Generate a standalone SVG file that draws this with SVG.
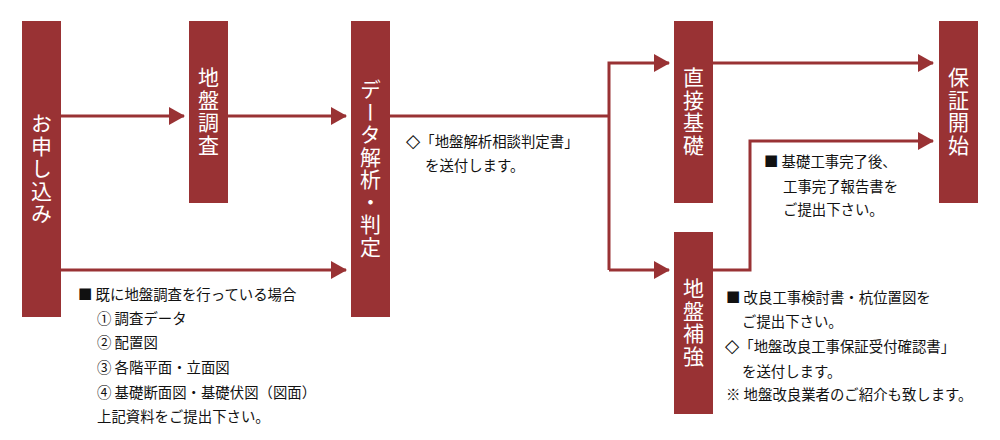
<svg xmlns="http://www.w3.org/2000/svg" width="1000" height="440" viewBox="0 0 1000 440">
<style>
.box{fill:#993234}
.lbl{fill:#fff;font-family:"Noto Sans CJK JP","Noto Sans",sans-serif;font-size:21px;writing-mode:vertical-rl;text-anchor:middle;letter-spacing:1.5px}
.ln{fill:none;stroke:#993234;stroke-width:3}
.t{fill:#111;font-family:"Noto Sans CJK JP","Noto Sans",sans-serif;font-size:14.4px}
.sym{font-family:"DejaVu Sans",sans-serif;font-size:18.5px;fill:#111}
</style>
<defs>
<marker id="ah" markerUnits="userSpaceOnUse" markerWidth="16" markerHeight="18" viewBox="0 0 16 18" refX="15" refY="9" orient="auto">
<polygon points="0,0 16,9 0,18" fill="#993234"/>
</marker>
</defs>
<rect width="1000" height="440" fill="#fff"/>
<g id="connectors">
<path class="ln" d="M61,116 H184" marker-end="url(#ah)"/>
<path class="ln" d="M228,116 H346" marker-end="url(#ah)"/>
<path class="ln" d="M61,270 H346" marker-end="url(#ah)"/>
<path class="ln" d="M390,116 H609"/>
<path class="ln" d="M609,270 V63 H669" marker-end="url(#ah)"/>
<path class="ln" d="M609,270 H669" marker-end="url(#ah)"/>
<path class="ln" d="M713,63 H933" marker-end="url(#ah)"/>
<path class="ln" d="M713,270 H750 V141 H933" marker-end="url(#ah)"/>
</g>
<g id="n1"><rect class="box" x="22" y="21" width="39" height="296"/><text class="lbl" x="41.5" y="169">お申し込み</text></g>
<g id="n2"><rect class="box" x="189" y="21" width="39" height="182"/><text class="lbl" x="208.5" y="112">地盤調査</text></g>
<g id="n3"><rect class="box" x="351" y="21" width="39" height="296"/><text class="lbl" x="370.5" y="169">データ解析・判定</text></g>
<g id="n4"><rect class="box" x="674" y="21" width="39" height="182"/><text class="lbl" x="693.5" y="112">直接基礎</text></g>
<g id="n5"><rect class="box" x="674" y="232" width="39" height="182"/><text class="lbl" x="693.5" y="323">地盤補強</text></g>
<g id="n6"><rect class="box" x="939" y="21" width="39" height="182"/><text class="lbl" x="958.5" y="112">保証開始</text></g>
<g id="note1">
<text class="t" x="78" y="300">■ 既に地盤調査を行っている場合</text>
<text class="t" x="97" y="324">① 調査データ</text>
<text class="t" x="97" y="348">② 配置図</text>
<text class="t" x="97" y="373">③ 各階平面・立面図</text>
<text class="t" x="97" y="398">④ 基礎断面図・基礎伏図（図面）</text>
<text class="t" x="97" y="422">上記資料をご提出下さい。</text>
</g>
<g id="note2">
<text class="t" x="406" y="147"><tspan class="sym">◇</tspan>「地盤解析相談判定書」</text>
<text class="t" x="425" y="171">を送付します。</text>
</g>
<g id="note3">
<text class="t" x="764" y="167">■ 基礎工事完了後、</text>
<text class="t" x="783" y="192">工事完了報告書を</text>
<text class="t" x="783" y="215">ご提出下さい。</text>
</g>
<g id="note4">
<text class="t" x="726" y="303">■ 改良工事検討書・杭位置図を</text>
<text class="t" x="742" y="327">ご提出下さい。</text>
<text class="t" x="725" y="352"><tspan class="sym">◇</tspan>「地盤改良工事保証受付確認書」</text>
<text class="t" x="742" y="377">を送付します。</text>
<text class="t" x="726" y="400">※ 地盤改良業者のご紹介も致します。</text>
</g>
</svg>
